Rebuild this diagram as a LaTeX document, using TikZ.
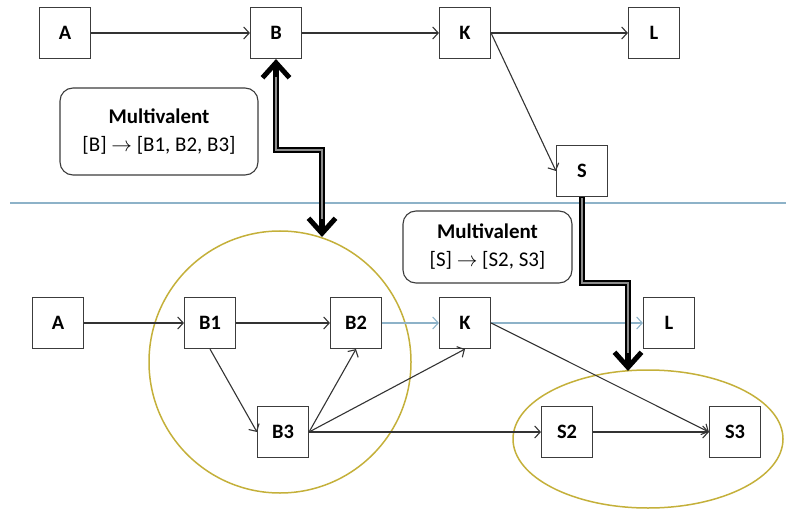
\documentclass[tikz,border=0pt]{standalone}
\usepackage{fontspec}
\setmainfont{Carlito}
\usetikzlibrary{arrows.meta,shapes.geometric}
\definecolor{boxgray}{HTML}{3C3C3C}
\definecolor{linegray}{HTML}{333333}
\definecolor{sepblue}{HTML}{8DB2C8}
\definecolor{groupolive}{HTML}{C4B03A}
\newcommand{\mvarrow}{$\rightarrow$}
\tikzset{bigtip/.tip={Straight Barb[length=15bp,width=27bp,line width=5bp]}}
\begin{document}
\begin{tikzpicture}[x=1bp,y=-1bp,
  statebox/.style={draw=boxgray, line width=1.1bp, fill=white, minimum size=51bp,
    inner sep=0pt, font=\bfseries\fontsize{20.5}{24}\selectfont},
  callout/.style={draw=boxgray, line width=1.1bp, rounded corners=13bp, fill=white,
    align=center, inner sep=0pt, font=\fontsize{21}{28}\selectfont},
  flow/.style={draw=linegray, line width=1.1bp, -{Straight Barb[length=5.5bp,width=12bp]}},
  flowblue/.style={flow, draw=sepblue},
  group/.style={draw=groupolive, line width=1.5bp},
  bigback/.style={draw=black, line width=5.5bp},
  bigcore/.style={draw=black!45, line width=1.2bp},
  sepline/.style={draw=sepblue, line width=1.8bp}
]
\useasboundingbox (0,0) rectangle (786,511);

% separator between the two levels
\coordinate (sepL) at (10,203);
\coordinate (sepR) at (786,203);
\draw[sepline] (sepL) -- (sepR);

% grouping outlines on the lower level
\node[group, circle, minimum size=262bp, inner sep=0pt] (grpB) at (280,362) {};
\node[group, ellipse, minimum width=270bp, minimum height=138bp, inner sep=0pt] (grpS) at (648,439) {};

% upper level
\node[statebox] (A)  at (65,33)  {A};
\node[statebox] (B)  at (276,33) {B};
\node[statebox] (K)  at (465,33) {K};
\node[statebox] (L)  at (654,33) {L};
\node[statebox] (S)  at (582,171) {S};

\draw[flow] (A) -- (B);
\draw[flow] (B) -- (K);
\draw[flow] (K) -- (L);
\draw[flow] (K.east) -- (S.west);

% lower level
\node[statebox] (A2) at (58,323)  {A};
\node[statebox] (B1) at (210,323) {B1};
\node[statebox] (B2) at (356,323) {B2};
\node[statebox] (B3) at (283,432) {B3};
\node[statebox] (K2) at (465,323) {K};
\node[statebox] (L2) at (669,323) {L};
\node[statebox] (S2) at (567,432) {S2};
\node[statebox] (S3) at (735,432) {S3};

\draw[flow] (A2) -- (B1);
\draw[flow] (B1) -- (B2);
\draw[flowblue] (B2) -- (K2);
\draw[flowblue] (K2) -- (L2);
\draw[flow] (B1.south) -- (B3.west);
\draw[flow] (B3.east) -- (B2.south);
\draw[flow] (B3.east) -- (K2.south);
\draw[flow] (B3.east) -- (S2.west);
\draw[flow] (S2) -- (S3);
\draw[flow] (K2.east) -- (S3.west);

% callouts
\node[callout, minimum width=198bp, minimum height=87bp] (mvB) at (159,131.5)
  {\textbf{Multivalent}\\{}[B] \mvarrow{} [B1, B2, B3]};
\node[callout, minimum width=169bp, minimum height=72bp] (mvS) at (487.5,247)
  {\textbf{Multivalent}\\{}[S] \mvarrow{} [S2, S3]};

% refinement arrows between the levels
\coordinate (bendB1) at (276,150);
\coordinate (bendB2) at (322,150);
\coordinate (grpBtop) at (322,237);
\draw[bigback, bigtip-bigtip] (B.south) -- (bendB1) -- (bendB2) -- (grpBtop);
\draw[bigcore, shorten <=18bp, shorten >=18bp] (B.south) -- (bendB1) -- (bendB2) -- (grpBtop);

\coordinate (bendS1) at (582,283);
\coordinate (bendS2) at (628,283);
\coordinate (grpStop) at (628,371);
\draw[bigback, -bigtip] (S.south) -- (bendS1) -- (bendS2) -- (grpStop);
\draw[bigcore, shorten <=1bp, shorten >=18bp] (S.south) -- (bendS1) -- (bendS2) -- (grpStop);
\end{tikzpicture}
\end{document}
